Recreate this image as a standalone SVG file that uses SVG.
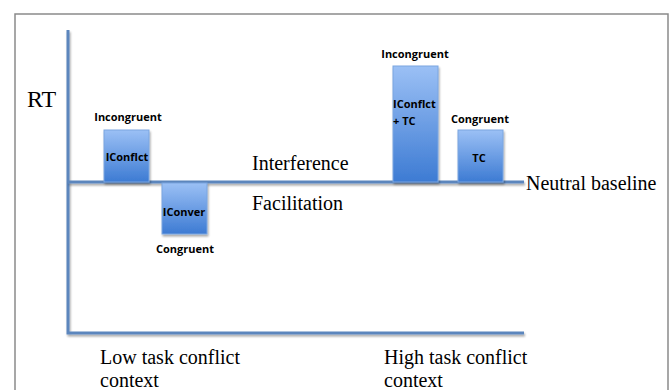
<svg xmlns="http://www.w3.org/2000/svg" width="671" height="390" viewBox="0 0 671 390">
<defs>
<linearGradient id="barg" x1="0" y1="0" x2="0" y2="1">
<stop offset="0" stop-color="#9bc0f5"/>
<stop offset="1" stop-color="#3d7bd3"/>
</linearGradient>
<filter id="sh" filterUnits="userSpaceOnUse" x="0" y="0" width="671" height="390">
<feGaussianBlur in="SourceAlpha" stdDeviation="1.2"/>
<feOffset dx="1" dy="1.5" result="b"/>
<feComponentTransfer><feFuncA type="linear" slope="0.35"/></feComponentTransfer>
<feMerge><feMergeNode/><feMergeNode in="SourceGraphic"/></feMerge>
</filter>
</defs>
<style>
.bar{fill:url(#barg);stroke:#7aa6e0;stroke-width:1;filter:url(#sh)}
.ax{stroke:#5b86bd;stroke-width:3;fill:none;filter:url(#sh)}
.lb{font-family:"Open Sans","Liberation Sans",sans-serif;font-weight:bold;font-size:11px;fill:#000}
.sf{font-family:"Liberation Serif","Times New Roman",serif;fill:#000;font-size:20px}
</style>
<rect x="0" y="0" width="671" height="390" fill="#fff"/>
<path d="M15,390 V14 H668 V390" fill="none" stroke="#8a8a8a" stroke-width="1.5"/>
<g id="connectors">
<path class="ax" d="M68,30 V333 H524"/>
<path class="ax" d="M68,182 H524"/>
</g>
<text class="sf" x="27" y="107" font-size="24" style="font-size:24px">RT</text>
<g id="iconflct">
<rect class="bar" x="104" y="130" width="45" height="52"/>
<text class="lb" x="127" y="161" text-anchor="middle">IConflct</text>
<text class="lb" x="128" y="121" text-anchor="middle">Incongruent</text>
</g>
<g id="iconver">
<rect class="bar" x="162" y="183" width="45" height="51"/>
<text class="lb" x="184" y="216" text-anchor="middle">IConver</text>
<text class="lb" x="185" y="253" text-anchor="middle">Congruent</text>
</g>
<g id="iconflct-tc">
<rect class="bar" x="393" y="66" width="45" height="116"/>
<text class="lb" x="393" y="108">IConflct</text>
<text class="lb" x="393" y="125">+ TC</text>
<text class="lb" x="415" y="58" text-anchor="middle">Incongruent</text>
</g>
<g id="tc">
<rect class="bar" x="458" y="130" width="45" height="52"/>
<text class="lb" x="479" y="162" text-anchor="middle">TC</text>
<text class="lb" x="480" y="123" text-anchor="middle">Congruent</text>
</g>
<text class="sf" x="252" y="170">Interference</text>
<text class="sf" x="252" y="210">Facilitation</text>
<text class="sf" x="526" y="190">Neutral baseline</text>
<text class="sf" x="100" y="364">Low task conflict</text>
<text class="sf" x="100" y="387">context</text>
<text class="sf" x="384" y="364">High task conflict</text>
<text class="sf" x="384" y="387">context</text>
</svg>
